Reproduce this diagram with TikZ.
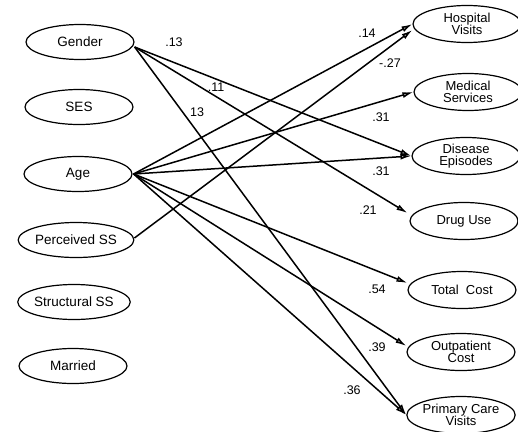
\documentclass[tikz,border=0pt]{standalone}
\usepackage{fontspec}
\setmainfont{Liberation Sans}
\usetikzlibrary{shapes.geometric,arrows.meta}
\begin{document}
\begin{tikzpicture}[x=1pt,y=-1pt,
  lvar/.style={draw, line width=1.2pt, ellipse, minimum width=108pt, minimum height=35pt, inner sep=0pt,
    font=\fontsize{13.5}{13.5}\selectfont},
  rvar/.style={draw, line width=1.2pt, ellipse, minimum width=108pt, minimum height=37pt, inner sep=0pt,
    align=center, font=\fontsize{13}{12.5}\selectfont},
  path/.style={line width=1.5pt, -{Latex[length=11pt,width=6pt,fill=gray!60]}},
  coef/.style={font=\fontsize{12.5}{12.5}\selectfont, inner sep=0pt}]
\useasboundingbox (0,0) rectangle (518,431);
% left variables
\node[lvar] (gender) at (80,42) {Gender};
\node[lvar] (ses) at (79,107) {SES};
\node[lvar] (age) at (78,174) {Age};
\node[lvar] (pss) at (76,240) {Perceived SS};
\node[lvar] (sss) at (74,302) {Structural SS};
\node[lvar] (mar) at (73,366) {Married};
% right variables
\node[rvar] (hv) at (467,24) {Hospital\\Visits};
\node[rvar] (ms) at (468,92) {Medical\\Services};
\node[rvar] (de) at (466,156) {Disease\\Episodes};
\node[rvar] (du) at (464,221) {Drug Use};
\node[rvar] (tc) at (462,290) {Total\ \ Cost};
\node[rvar] (oc) at (461,352) {Outpatient\\Cost};
\node[rvar] (pcv) at (461,415) {Primary Care\\Visits};
% start points
\coordinate (gs) at ([yshift=-5pt]gender.east);
\coordinate (as) at ([xshift=1pt]age.east);
\coordinate (ps) at ([yshift=2pt]pss.east);
% paths
\draw[path] (gs) -- (de.west);
\draw[path] (gs) -- ([xshift=-2pt,yshift=8pt]du.west);
\draw[path] (gs) -- (pcv.west);
\draw[path] (as) -- (hv.west);
\draw[path] (as) -- (ms.west);
\draw[path] (as) -- (de.west);
\draw[path] (as) -- ([yshift=7pt]tc.west);
\draw[path] (as) -- ([yshift=6pt]oc.west);
\draw[path] (as) -- (pcv.west);
\draw[path] (ps) -- ([yshift=-6pt]hv.west);
% coefficients
\node[coef] (c1) at (174,42) {.13};
\node[coef] (c2) at (216,87) {.11};
\node[coef] (c3) at (197,112) {13};
\node[coef] (c4) at (367,33) {.14};
\node[coef] (c5) at (390,63) {-.27};
\node[coef] (c6) at (381,117) {.31};
\node[coef] (c7) at (381,171) {.31};
\node[coef] (c8) at (368,210) {.21};
\node[coef] (c9) at (377,289) {.54};
\node[coef] (c10) at (377,347) {.39};
\node[coef] (c11) at (352,390) {.36};
\end{tikzpicture}
\end{document}
